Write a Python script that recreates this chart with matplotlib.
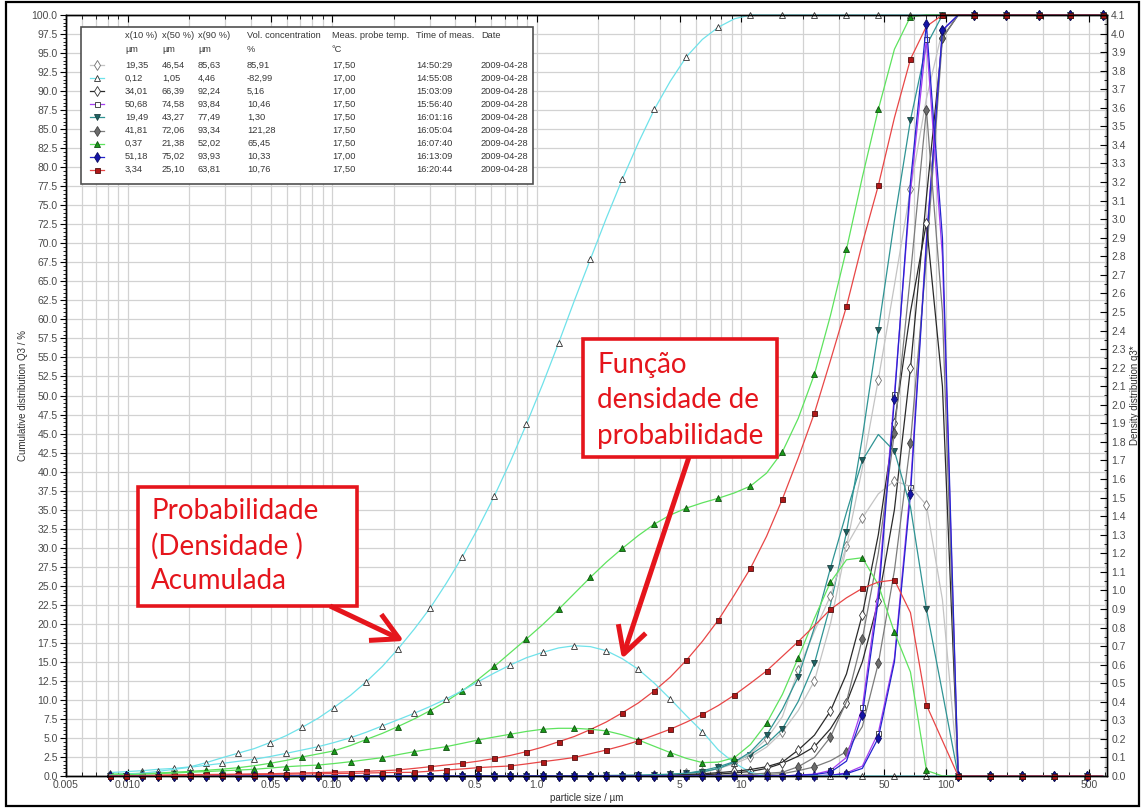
import numpy as np
import matplotlib
matplotlib.use("Agg")
import matplotlib.pyplot as plt
from matplotlib.patches import Rectangle, FancyArrowPatch
from matplotlib.lines import Line2D
from matplotlib.ticker import FixedLocator, MultipleLocator, NullFormatter

plt.rcParams["font.family"] = ["Liberation Sans", "DejaVu Sans"]

W, H = 1141, 808

# class grid of the instrument (µm)
grid_um = [0.0082, 0.0098, 0.0118, 0.0141, 0.0169, 0.0202, 0.0242, 0.0290, 0.0347, 0.0416,
           0.0498, 0.0596, 0.0714, 0.0855, 0.102, 0.123, 0.147, 0.176, 0.210, 0.252,
           0.302, 0.361, 0.433, 0.518, 0.621, 0.743, 0.890, 1.07, 1.28, 1.53,
           1.83, 2.19, 2.62, 3.14, 3.76, 4.50, 5.39, 6.46, 7.73, 9.26,
           11.1, 13.3, 15.9, 19.0, 22.8, 27.3, 32.7, 39.1, 46.8, 56.1,
           67.2, 80.4, 96.3, 115, 138, 165, 198, 237, 284, 340,
           407, 488, 584]

# cumulative Q3 (%) and density q3* per measurement; each list starts at grid index *_start
grey_start = 34
cum_grey = [0.1, 0.2, 0.35, 0.6, 1.0, 1.6, 2.5, 3.8, 5.8, 8.6,
            12.5, 20.0, 30.2, 40.5, 52.1, 64.5, 77.1, 89.0, 98.0, 100]
dens_grey = [0.005, 0.008, 0.012, 0.02, 0.04, 0.07, 0.12, 0.2, 0.32, 0.57,
             0.78, 0.97, 1.24, 1.39, 1.52, 1.59, 1.56, 1.46, 0.95, 0.0]

cyan_start = 0
cum_cyan = [0.45, 0.57, 0.7, 0.88, 1.0, 1.2, 1.75, 2.4, 3.0, 3.6,
            4.4, 5.3, 6.4, 7.6, 9.0, 10.6, 12.4, 14.4, 16.7, 19.3,
            22.1, 25.3, 28.8, 32.6, 36.8, 41.3, 46.2, 51.5, 56.9, 62.5,
            67.9, 73.3, 78.4, 83.2, 87.6, 91.3, 94.5, 96.8, 98.4, 99.5, 100]
dens_cyan = [0.005, 0.01, 0.015, 0.025, 0.036, 0.047, 0.058, 0.068, 0.079, 0.09,
             0.105, 0.122, 0.14, 0.158, 0.18, 0.206, 0.236, 0.27, 0.303, 0.338,
             0.375, 0.415, 0.46, 0.508, 0.555, 0.598, 0.637, 0.666, 0.69, 0.702,
             0.697, 0.675, 0.632, 0.575, 0.5, 0.415, 0.325, 0.239, 0.14, 0.07, 0.02, 0.0]

black_start = 34
cum_black = [0.05, 0.08, 0.12, 0.18, 0.25, 0.4, 0.6, 1.0, 1.67, 2.6,
             3.85, 6.2, 9.6, 15.0, 23.0, 35.0, 53.6, 76.0, 97.0, 100]
dens_black = [0.003, 0.005, 0.008, 0.012, 0.018, 0.025, 0.035, 0.05, 0.075, 0.14,
              0.22, 0.35, 0.55, 0.87, 1.3, 1.9, 2.5, 2.98, 2.1, 0.0]

purple_start = 43
cum_purple = [0.02, 0.05, 0.1, 0.4, 1.3, 5.7, 15.5, 38.0, 70.5, 98.0, 100]
dens_purple = [0.005, 0.01, 0.03, 0.1, 0.37, 1.0, 2.06, 3.15, 3.97, 2.8, 0.0]

teal_start = 30
cum_teal = [0.02, 0.03, 0.05, 0.07, 0.1, 0.2, 0.35, 0.7, 1.2, 1.9,
            2.8, 4.2, 6.2, 9.8, 14.8, 22.5, 32.0, 44.5, 58.6, 73.0,
            86.2, 96.0, 100]
dens_teal = [0.002, 0.003, 0.004, 0.005, 0.007, 0.01, 0.015, 0.022, 0.04, 0.075,
             0.13, 0.22, 0.36, 0.535, 0.8, 1.12, 1.42, 1.70, 1.84, 1.75,
             1.45, 0.90, 0.45, 0.0]

gray_start = 38
cum_gray = [0.05, 0.1, 0.15, 0.2, 0.3, 0.7, 1.2, 2.0, 3.2, 6.5,
            14.8, 27.0, 43.8, 68.0, 97.0, 100]
dens_gray = [0.003, 0.006, 0.01, 0.015, 0.02, 0.05, 0.1, 0.21, 0.4, 0.74,
             1.2, 1.85, 2.7, 3.59, 2.5, 0.0]

green_start = 0
cum_green = [0.25, 0.3, 0.35, 0.4, 0.5, 0.6, 0.75, 0.9, 1.09, 1.35,
             1.67, 2.05, 2.5, 2.9, 3.3, 4.0, 4.8, 5.6, 6.5, 7.5,
             8.6, 9.8, 11.2, 12.7, 14.4, 16.2, 18.0, 19.9, 21.9, 24.0,
             26.1, 28.1, 29.9, 31.6, 33.1, 34.3, 35.2, 35.9, 36.5, 37.2,
             38.1, 39.8, 42.6, 47.0, 52.8, 60.5, 69.2, 78.7, 87.6, 95.5,
             99.8, 100]
dens_green = [0.005, 0.008, 0.01, 0.013, 0.016, 0.02, 0.024, 0.028, 0.032, 0.036,
              0.043, 0.05, 0.055, 0.059, 0.067, 0.077, 0.088, 0.099, 0.115, 0.131,
              0.145, 0.158, 0.176, 0.194, 0.21, 0.225, 0.24, 0.252, 0.257, 0.257,
              0.252, 0.243, 0.222, 0.194, 0.16, 0.126, 0.095, 0.072, 0.075, 0.099,
              0.17, 0.284, 0.44, 0.637, 0.85, 1.044, 1.165, 1.176, 1.03, 0.774,
              0.56, 0.03, 0.0]

blue_start = 43
cum_blue = [0.01, 0.03, 0.1, 0.3, 1.0, 5.0, 15.0, 37.0, 70.0, 98.0, 100]
dens_blue = [0.004, 0.008, 0.02, 0.08, 0.33, 0.95, 2.03, 3.2, 4.05, 2.9, 0.0]

red_start = 0
cum_red = [0.0, 0.05, 0.1, 0.12, 0.15, 0.18, 0.2, 0.22, 0.25, 0.28,
           0.3, 0.35, 0.4, 0.45, 0.5, 0.55, 0.62, 0.7, 0.79, 1.0,
           1.22, 1.45, 1.67, 1.95, 2.3, 2.7, 3.2, 3.8, 4.5, 5.2,
           6.1, 7.1, 8.3, 9.6, 11.2, 13.0, 15.2, 17.7, 20.5, 23.8,
           27.3, 31.5, 36.4, 41.8, 47.7, 54.6, 61.7, 70.0, 77.6, 86.5,
           94.2, 98.5, 100]
dens_red = [0.0, 0.0, 0.0, 0.002, 0.003, 0.004, 0.005, 0.006, 0.007, 0.008,
            0.009, 0.01, 0.011, 0.012, 0.013, 0.014, 0.016, 0.018, 0.019, 0.02,
            0.026, 0.032, 0.038, 0.045, 0.05, 0.054, 0.065, 0.077, 0.088, 0.1,
            0.12, 0.14, 0.163, 0.189, 0.22, 0.252, 0.29, 0.332, 0.38, 0.436,
            0.5, 0.566, 0.645, 0.724, 0.81, 0.898, 0.96, 1.011, 1.045, 1.056,
            0.88, 0.383, 0.19, 0.0]

# legend table
x10 = ["19,35", "0,12", "34,01", "50,68", "19,49", "41,81", "0,37", "51,18", "3,34"]
x50 = ["46,54", "1,05", "66,39", "74,58", "43,27", "72,06", "21,38", "75,02", "25,10"]
x90 = ["85,63", "4,46", "92,24", "93,84", "77,49", "93,34", "52,02", "93,93", "63,81"]
vol_conc = ["85,91", "-82,99", "5,16", "10,46", "1,30", "121,28", "65,45", "10,33", "10,76"]
probe_temp = ["17,50", "17,00", "17,00", "17,50", "17,50", "17,50", "17,50", "17,00", "17,50"]
meas_time = ["14:50:29", "14:55:08", "15:03:09", "15:56:40", "16:01:16",
             "16:05:04", "16:07:40", "16:13:09", "16:20:44"]
meas_date = ["2009-04-28"] * 9

# (start, cumulative, density, line colour, marker, face, edge)
series = [
    (grey_start, cum_grey, dens_grey, "#c4c4c4", "d", "white", "#707070"),
    (cyan_start, cum_cyan, dens_cyan, "#6fe2ea", "^", "white", "#303030"),
    (black_start, cum_black, dens_black, "#2a2a2a", "d", "white", "#303030"),
    (purple_start, cum_purple, dens_purple, "#a63ef2", "s", "white", "#303030"),
    (teal_start, cum_teal, dens_teal, "#2f9494", "v", "#1d6262", "#1d4040"),
    (gray_start, cum_gray, dens_gray, "#7c7c7c", "d", "#6c6c6c", "#404040"),
    (green_start, cum_green, dens_green, "#5ee35e", "^", "#1a9a1a", "#0f4f0f"),
    (blue_start, cum_blue, dens_blue, "#2424d0", "d", "#1414a8", "#0a0a60"),
    (red_start, cum_red, dens_red, "#e84646", "s", "#b01818", "#501010"),
]
marker_size = {"^": 4.4, "v": 4.4, "d": 4.6, "s": 3.6}


def padded(start, vals, tail):
    n = len(grid_um)
    return np.r_[np.zeros(start), vals, np.full(n - start - len(vals), tail)]


def fx(px):
    return px / W


def fy(py):
    return 1 - py / H


fig = plt.figure(figsize=(W / 100, H / 100), dpi=100)
ax = fig.add_axes([fx(66), fy(776), (1107 - 66) / W, (776 - 15) / H])
ax2 = ax.twinx()
ax2.patch.set_visible(False)

x = np.array(grid_um)
for start, cum, dens, col, mk, mfc, mec in series:
    ms = marker_size[mk]
    ax.plot(x, padded(start, cum, 100), color=col, lw=0.9, marker=mk, ms=ms,
            mfc=mfc, mec=mec, mew=0.6, markevery=(0, 2), clip_on=False)
    ax2.plot(x, padded(start, dens, 0), color=col, lw=0.9, marker=mk, ms=ms,
             mfc=mfc, mec=mec, mew=0.6, markevery=(1, 2), clip_on=False)

ax.set_xscale("log")
ax.set_xlim(0.005, 614)
ax.set_ylim(0, 100)
ax2.set_ylim(0, 4.1)

major_x = [0.005, 0.01, 0.05, 0.1, 0.5, 1, 5, 10, 50, 100, 500]
major_lbl = ["0.005", "0.010", "0.05", "0.10", "0.5", "1.0", "5", "10", "50", "100", "500"]
minor_x = [m * 10.0 ** e for e in range(-3, 3) for m in range(1, 10)
           if 0.005 <= m * 10.0 ** e <= 614]
ax.xaxis.set_major_locator(FixedLocator(major_x))
ax.set_xticklabels(major_lbl)
ax.xaxis.set_minor_locator(FixedLocator(minor_x))
ax.xaxis.set_minor_formatter(NullFormatter())

ax.yaxis.set_major_locator(MultipleLocator(2.5))
ax.yaxis.set_minor_locator(MultipleLocator(0.5))
ax.yaxis.set_major_formatter(plt.FormatStrFormatter("%.1f"))
ax2.yaxis.set_major_locator(MultipleLocator(0.1))
ax2.yaxis.set_minor_locator(MultipleLocator(0.05))
ax2.yaxis.set_major_formatter(plt.FormatStrFormatter("%.1f"))

ax.grid(which="both", axis="x", color="#d2d2d2", lw=0.9)
ax.grid(which="major", axis="y", color="#d2d2d2", lw=0.9)
ax.set_axisbelow(True)

tick_col = "#4a4a4a"
ax.tick_params(axis="x", which="both", direction="in", top=True, labelsize=7.5,
               labelcolor=tick_col, pad=3)
ax.tick_params(axis="x", which="major", length=5)
ax.tick_params(axis="x", which="minor", length=3)
ax.tick_params(axis="y", which="both", direction="out", labelsize=7.5,
               labelcolor=tick_col, pad=2)
ax.tick_params(axis="y", which="major", length=4)
ax.tick_params(axis="y", which="minor", length=2.5)
ax2.tick_params(axis="y", which="both", direction="in", labelsize=7.5,
                labelcolor=tick_col, pad=3)
ax2.tick_params(axis="y", which="major", length=5)
ax2.tick_params(axis="y", which="minor", length=2.5)
for a in (ax, ax2):
    for s in a.spines.values():
        s.set_color("black")
        s.set_linewidth(1.0)

ax.set_xlabel("particle size / µm", fontsize=7, color="#303030", labelpad=2)
ax.set_ylabel("Cumulative distribution Q3 / %", fontsize=7, color="#303030", labelpad=3)
ax2.set_ylabel("Density distribution q3*", fontsize=7, color="#303030", labelpad=3)

# legend table
fig.add_artist(Rectangle((fx(81), fy(184)), (533 - 81) / W, (184 - 27) / H,
                         transform=fig.transFigure, facecolor="white",
                         edgecolor="#505050", lw=1.2, zorder=5))
col_x = [125, 162, 198, 247, 332, 416, 481]
headers = ["x(10 %)", "x(50 %)", "x(90 %)", "Vol. concentration",
           "Meas. probe temp.", "Time of meas.", "Date"]
units = ["µm", "µm", "µm", "%", "°C", "", ""]
tkw = dict(fontsize=6.7, color="#383838", va="center", ha="left", zorder=6)
for cx, h, u in zip(col_x, headers, units):
    fig.text(fx(cx), fy(36), h, **tkw)
    fig.text(fx(cx), fy(50), u, **tkw)
for i, row in enumerate(zip(x10, x50, x90, vol_conc, probe_temp, meas_time, meas_date)):
    yy = 65 + 13.1 * i
    for cx, val in zip(col_x, row):
        fig.text(fx(cx), fy(yy), val, **tkw)
    _, _, _, col, mk, mfc, mec = series[i]
    fig.add_artist(Line2D([fx(90), fx(97), fx(104)], [fy(yy)] * 3,
                          transform=fig.transFigure, color=col, lw=0.9,
                          marker=mk, ms=marker_size[mk], mfc=mfc, mec=mec,
                          mew=0.6, markevery=[1], zorder=6))

# annotation boxes and arrows
red = "#e5151c"
fig.add_artist(Rectangle((fx(138), fy(606)), (357 - 138) / W, (606 - 487) / H,
                         transform=fig.transFigure, facecolor="white",
                         edgecolor=red, lw=2.6, zorder=7))
fig.add_artist(Rectangle((fx(583), fy(457)), (777 - 583) / W, (457 - 339) / H,
                         transform=fig.transFigure, facecolor="white",
                         edgecolor=red, lw=2.6, zorder=7))
akw = dict(fontsize=20, color=red, family=["Lato", "DejaVu Sans"], va="center",
           ha="left", zorder=8)
for yy, txt in zip([511, 546, 581], ["Probabilidade", "(Densidade )", "Acumulada"]):
    fig.text(fx(151), fy(yy), txt, **akw)
for yy, txt in zip([365, 400, 436], ["Função", "densidade de", "probabilidade"]):
    fig.text(fx(597), fy(yy), txt, **akw)

for (x0, y0), (x1, y1) in [((330, 606), (404, 641)), ((689, 457), (622, 659))]:
    fig.add_artist(FancyArrowPatch((fx(x0), fy(y0)), (fx(x1), fy(y1)),
                                   transform=fig.transFigure, color=red, lw=3.6,
                                   arrowstyle="->,head_length=1.2,head_width=0.65",
                                   mutation_scale=16, shrinkA=0, shrinkB=0,
                                   capstyle="butt", zorder=8))

# outer frame of the screenshot
fig.add_artist(Rectangle((fx(6), fy(806)), (1139 - 6) / W, (806 - 2) / H,
                         transform=fig.transFigure, fill=False,
                         edgecolor="black", lw=1.6, zorder=9))

fig.savefig("out.png", dpi=100)
